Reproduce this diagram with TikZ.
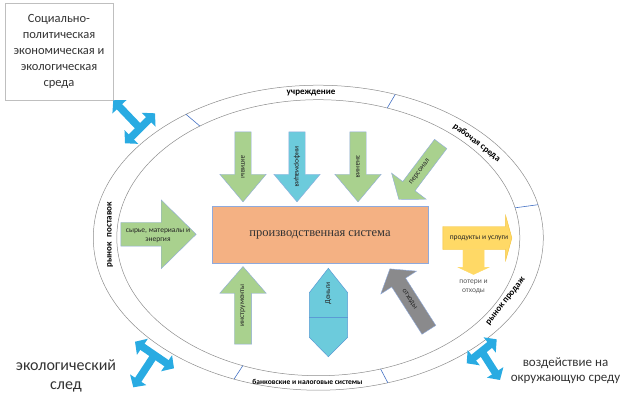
\documentclass[tikz,border=0pt]{standalone}
\usepackage{fontspec}
\setmainfont{Carlito}
\newfontfamily\sysfont{Liberation Serif}
\usetikzlibrary{positioning,shapes.arrows,arrows.meta,calc}
\usepackage{xcolor}
\definecolor{leaf}{HTML}{A9D18E}
\definecolor{sky}{HTML}{6CCBDC}
\definecolor{skyedge}{HTML}{5B9BD5}
\definecolor{stone}{HTML}{8A8A8C}
\definecolor{sun}{HTML}{FFD966}
\definecolor{sunedge}{HTML}{F2C037}
\definecolor{peach}{HTML}{F4B183}
\definecolor{edge}{HTML}{8FAADC}
\definecolor{tblue}{HTML}{29ABE2}
\definecolor{tickblue}{HTML}{4472C4}
\definecolor{ringgray}{HTML}{8C8C8C}

\tikzset{
  envbox/.style={draw=black!25, line width=0.5pt, minimum width=108pt, minimum height=97pt,
    align=center, font=\fontsize{12.5}{16}\selectfont, text=black!80},
  ring/.style={draw=ringgray, line width=0.5pt},
  sepline/.style={draw=tickblue, line width=0.6pt},
  ringtext/.style={font=\bfseries\fontsize{9}{10}\selectfont, inner sep=0pt},
  sysbox/.style={draw=edge, line width=0.5pt, fill=peach, minimum width=216pt, minimum height=57pt,
    font=\sysfont\fontsize{12.5}{14}\selectfont, text=black!80},
  blockarrow/.style={single arrow, draw=edge, line width=0.4pt, inner sep=0pt, text depth=0pt, anchor=tail},
  downarrow/.style={blockarrow, rotate=-90, minimum height=70pt, text height=16pt,
    single arrow head extend=15pt, single arrow tip angle=80},
  armtext/.style={font=\fontsize{7.5}{9}\selectfont, inner sep=0pt, text=black!85},
  tstem/.style={draw=tblue, line width=7.5pt, arrows={-Triangle[width=19pt,length=9pt]}},
  tbar/.style={tstem, arrows={Triangle[width=19pt,length=9pt]-Triangle[width=19pt,length=9pt]}},
  bigtext/.style={align=center, text=black!80}
}

\begin{document}
\begin{tikzpicture}[x=1pt,y=-1pt]
\useasboundingbox (0,0) rectangle (622,392);

% surrounding environment
\node[envbox] (env) at (59,51.5) {Социально-\\политическая\\экономическая и\\экологическая\\среда};

% the two rings
\coordinate (ctr) at (318.3,237.7);
\draw[ring] (ctr) ellipse [x radius=225, y radius=152.5];
\draw[ring] (ctr) ellipse [x radius=201.5, y radius=138];
\foreach \t in {-126,-70,-12.5,72,112}
  \draw[sepline] ($(ctr)+(\t:201.5 and 138)$) -- ($(ctr)+(\t:225 and 152.5)$);

\node[ringtext] (inst) at (311,93) {учреждение};
\node[ringtext, rotate=-37.5] (work) at (476.7,142.5) {рабочая среда};
\node[ringtext, rotate=51.6] (sales) at (506,301.5) {рынок продаж};
\node[ringtext, rotate=90] (supply) at (110,235) {рынок\hspace{5pt}поставок};
\node[ringtext, font=\bfseries\fontsize{7.5}{9}\selectfont] (bank) at (307.5,382) {банковские и налоговые системы};

% production system
\node[sysbox] (sys) at (320,234.5) {производственная система};

% inputs
\node[downarrow, fill=leaf] (assets) at (243,131.7) {};
\node[downarrow, fill=sky] (info) at (297,131.7) {};
\node[downarrow, fill=leaf] (know) at (358,131.7) {};
\node[blockarrow, fill=leaf, rotate=233, minimum height=69.5pt, text height=15pt,
  single arrow head extend=14pt, single arrow tip angle=105] (staff) at (440.8,143.8) {};
\node[blockarrow, fill=leaf, minimum height=75.3pt, text height=23.3pt,
  single arrow head extend=22.5pt, single arrow tip angle=89] (raw) at (120.7,234.3) {};
\node[blockarrow, fill=leaf, rotate=90, minimum height=77.6pt, text height=16.7pt,
  single arrow head extend=14.7pt, single arrow tip angle=82] (tools) at (243,344.3) {};
\node[blockarrow, fill=stone, rotate=122.6, minimum height=72.4pt, text height=16pt,
  single arrow head extend=13pt, single arrow tip angle=105] (waste) at (429,330) {};

% outputs
\node[blockarrow, fill=sun, draw=sunedge, minimum height=69pt, text height=22.6pt,
  single arrow head extend=11pt, single arrow tip angle=149] (prod) at (442.7,238) {};
\node[blockarrow, fill=sun, draw=sun, rotate=-90, minimum height=25pt, text height=20.7pt,
  single arrow head extend=4.7pt, single arrow tip angle=130] (loss) at (473.5,249.3) {};

% money
\draw[fill=sky, draw=skyedge, line width=0.5pt] (328.3,268.3) -- (347.7,292.7) -- (347.7,337.3)
  -- (328.3,356.7) -- (309.3,337.3) -- (309.3,292.7) -- cycle;
\draw[draw=skyedge, line width=0.6pt] (309.3,317.7) -- (347.7,317.7);

% arrow texts
\node[armtext, rotate=-90] (assets-l) at ($(assets.tail)!.5!(assets.tip)$) {активы};
\node[armtext, rotate=-90] (info-l) at ($(info.tail)!.5!(info.tip)$) {информация};
\node[armtext, rotate=-90] (know-l) at ($(know.tail)!.5!(know.tip)$) {знания};
\node[armtext, rotate=53] (staff-l) at ($(staff.tail)!.5!(staff.tip)$) {персонал};
\node[armtext, rotate=90] (tools-l) at ($(tools.tail)!.5!(tools.tip)$) {инструменты};
\node[armtext, rotate=-57.4] (waste-l) at ($(waste.tail)!.5!(waste.tip)$) {отходы};
\node[armtext, align=center] (raw-l) at (158,236) {сырье, материалы и\\энергия};
\node[armtext] (prod-l) at (479,238) {продукты и услуги};
\node[armtext, align=center, text=black!65, below=5pt of loss.tip] (loss-l) {потери и\\отходы};
\node[armtext, rotate=90] (money-l) at (328.3,293.3) {Деньги};

% exchange with the environment
\coordinate (ta-c) at (140,128.3);
\coordinate (ta-a) at (155,113.3);
\coordinate (ta-b) at (125,143.3);
\draw[tbar] (ta-a) -- (ta-b);
\draw[tstem] (ta-c) -- (env.south east);

\node[bigtext, font=\fontsize{16}{18.7}\selectfont] (foot) at (66,376) {экологический\\след};
\coordinate (tb-c) at (154.5,355);
\coordinate (tb-a) at (135,341.7);
\coordinate (tb-b) at (174,368.3);
\coordinate (tb-s) at (133.3,387.3);
\draw[tbar] (tb-a) -- (tb-b);
\draw[tstem] (tb-c) -- (tb-s);

\node[bigtext, font=\fontsize{13}{15.6}\selectfont] (impact) at (565.5,370.5) {воздействие на\\окружающую среду};
\coordinate (tc-c) at (481.7,351.3);
\coordinate (tc-a) at (466.7,363.3);
\coordinate (tc-b) at (496.7,339.3);
\coordinate (tc-s) at (500,380);
\draw[tbar] (tc-a) -- (tc-b);
\draw[tstem] (tc-c) -- (tc-s);
\end{tikzpicture}
\end{document}
